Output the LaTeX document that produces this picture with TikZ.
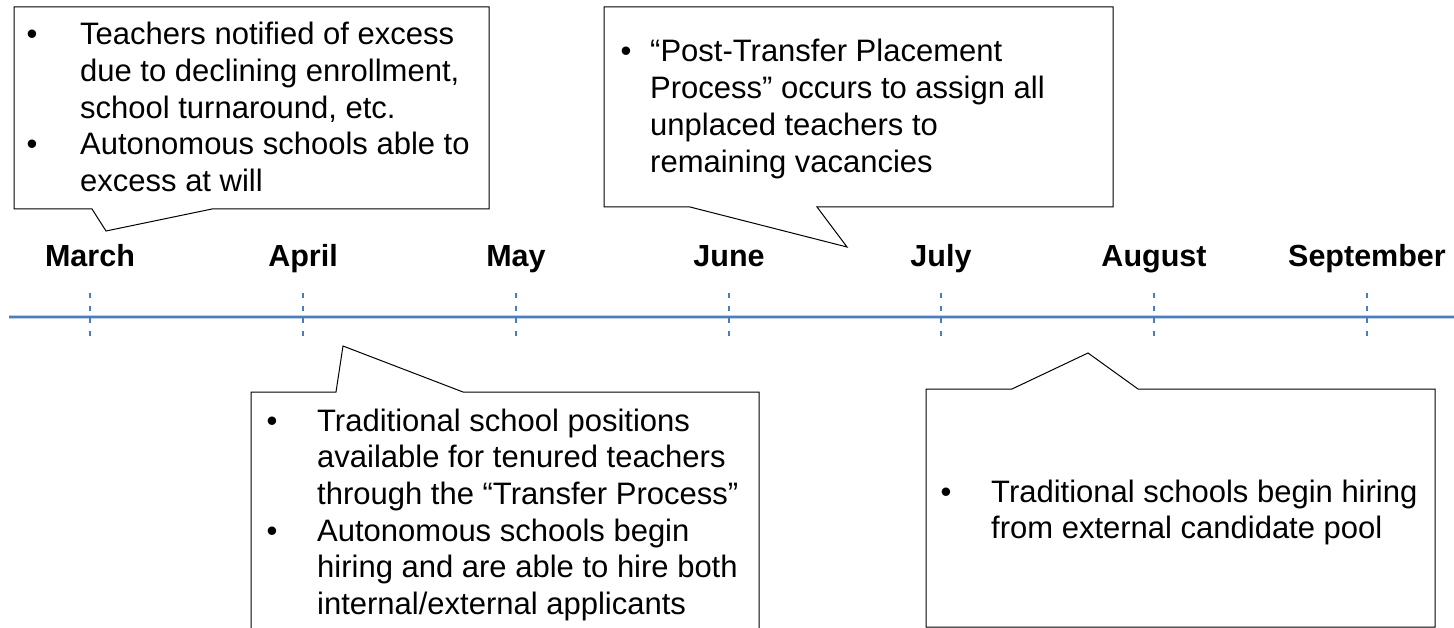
\documentclass[tikz,border=0pt]{standalone}
\usepackage{fontspec}
\setmainfont{Liberation Sans}
\definecolor{axisblue}{RGB}{74,126,187}
\definecolor{haloblue}{RGB}{190,208,232}
\newcommand{\txt}[1]{\parbox[t]{520pt}{\raggedright #1}}
\begin{document}
\begin{tikzpicture}[x=1pt,y=-1pt,
  callout/.style={draw=black, line width=1pt, fill=white, line join=miter},
  body/.style={font=\fontsize{31}{36.7}\selectfont, inner sep=0pt, anchor=base west},
  dot/.style={font=\fontsize{31}{36.7}\selectfont, inner sep=0pt, anchor=base},
  month/.style={font=\fontsize{30.5}{36.7}\selectfont\bfseries, inner sep=0pt, anchor=base},
  axisline/.style={draw=axisblue, line width=1.5pt},
  monthtick/.style={draw=axisblue, line width=1.2pt, dash pattern=on 5pt off 7.7pt}
]
\useasboundingbox (0,0) rectangle (1454,628);
\clip (0,0) rectangle (1454,628);

% timeline
\coordinate (tl0) at (9,317);
\coordinate (tl1) at (1454,317);
\draw[draw=haloblue, line width=3.5pt] (tl0) -- (tl1);
\draw[axisline] (tl0) -- (tl1);

% months with dashed ticks
\foreach \m/\x [count=\i] in {March/90, April/303, May/516, June/729, July/941, August/1154, September/1367} {
  \node[month] (m\i) at (\x,267) {\m};
  \coordinate (ta\i) at (\x,293);
  \coordinate (tb\i) at (\x,341);
  \draw[monthtick] (ta\i) -- (tb\i);
}

% callout: excess notices
\coordinate (p1) at (106,231);
\draw[callout] (14,7) -- (489,7) -- (489,209) -- (212,209) -- (p1) -- (92,209) -- (14,209) -- cycle;
\node[dot] (b1a) at (32,45) {•};
\node[body] (c1a) at (80,45) {\txt{Teachers notified of excess\\due to declining enrollment,\\school turnaround, etc.}};
\node[dot] (b1b) at (32,155) {•};
\node[body] (c1b) at (80,155) {\txt{Autonomous schools able to\\excess at will}};

% callout: post-transfer placement
\coordinate (p2) at (847,247);
\draw[callout] (604,7) -- (1113,7) -- (1113,207) -- (817,207) -- (p2) -- (690,207) -- (604,207) -- cycle;
\node[dot] (b2) at (626,62) {•};
\node[body] (c2) at (650,62) {\txt{“Post-Transfer Placement\\Process” occurs to assign all\\unplaced teachers to\\remaining vacancies}};

% callout: transfer process
\coordinate (p3) at (343,346);
\draw[callout] (251,640) -- (251,392) -- (336,392) -- (p3) -- (463,392) -- (759,392) -- (759,640);
\node[dot] (b3a) at (272,431) {•};
\node[body] (c3a) at (317,431) {\txt{Traditional school positions\\available for tenured teachers\\through the “Transfer Process”}};
\node[dot] (b3b) at (272,541) {•};
\node[body] (c3b) at (317,541) {\txt{Autonomous schools begin\\hiring and are able to hire both\\internal/external applicants}};

% callout: external hiring
\coordinate (p4) at (1088,353);
\draw[callout] (926,389) -- (1012,389) -- (p4) -- (1138,389) -- (1435,389) -- (1435,627) -- (926,627) -- cycle;
\node[dot] (b4) at (946,502) {•};
\node[body] (c4) at (991,502) {\txt{Traditional schools begin hiring\\from external candidate pool}};
\end{tikzpicture}
\end{document}
